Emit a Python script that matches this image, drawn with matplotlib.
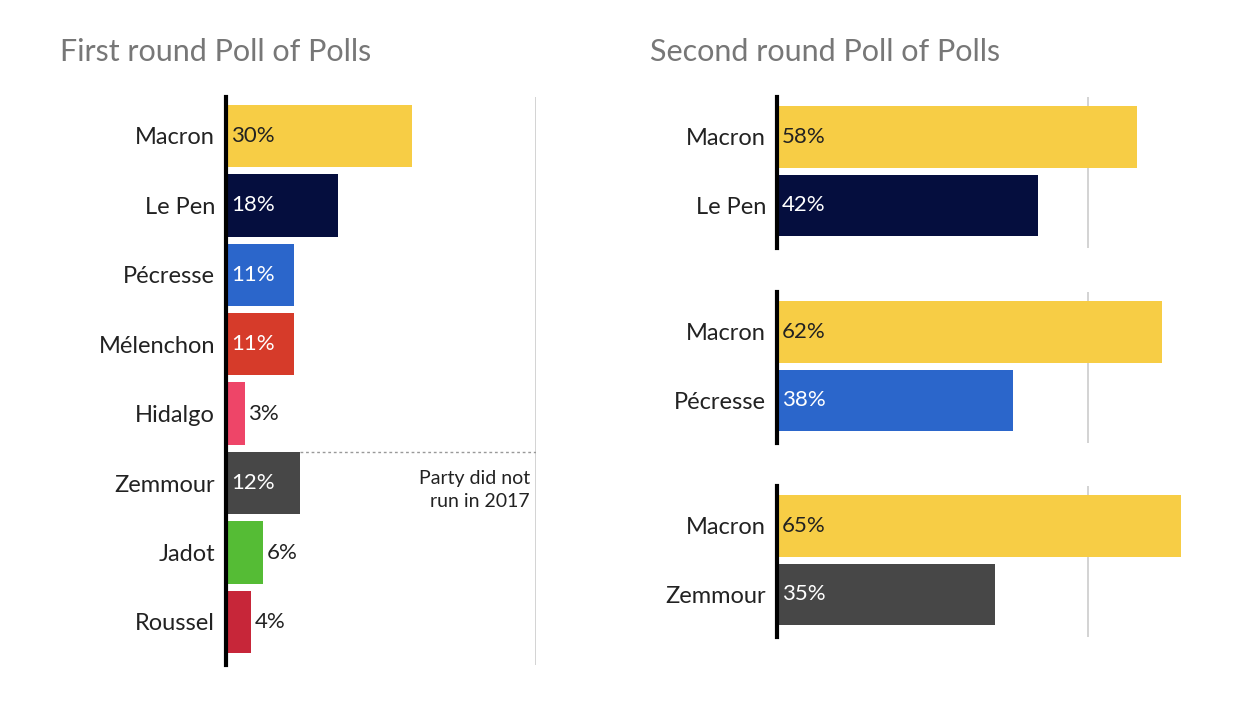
import matplotlib.pyplot as plt

plt.rcParams["font.family"] = ["Lato", "DejaVu Sans"]

W, H = 1236, 709

first_names = ["Macron", "Le Pen", "Pécresse", "Mélenchon", "Hidalgo", "Zemmour", "Jadot", "Roussel"]
first_values = [30, 18, 11, 11, 3, 12, 6, 4]
first_colors = ["#F7CD45", "#050E3E", "#2B66CB", "#D63B2A", "#EE4568", "#474747", "#55BC35", "#C72639"]
first_text = ["#222222", "white", "white", "white", "#222222", "white", "#222222", "#222222"]

second_pairs = [("Le Pen", 58, 42, "#050E3E"), ("Pécresse", 62, 38, "#2B66CB"), ("Zemmour", 65, 35, "#474747")]
YELLOW = "#F7CD45"


def px_axes(fig, left, top, right, bottom):
    return fig.add_axes([left / W, 1 - bottom / H, (right - left) / W, (bottom - top) / H])


def style(ax, xmax):
    ax.set_xlim(0, xmax)
    for s in ["top", "right", "bottom"]:
        ax.spines[s].set_visible(False)
    ax.spines["left"].set_linewidth(3)
    ax.spines["left"].set_color("black")
    ax.set_xticks([])
    ax.tick_params(axis="y", length=0, pad=8, labelsize=17, labelcolor="#222222")
    ax.axvline(50, color="#cccccc", lw=1.2, zorder=0)


fig = plt.figure(figsize=(W / 100, H / 100), dpi=100)

# first round
ax = px_axes(fig, 226, 97, 536, 665)
style(ax, 50)
n = len(first_names)
ax.set_ylim(n - 0.5 + 0.12, -0.5 - 0.06)
ax.barh(range(n), first_values, color=first_colors, height=0.9)
ax.set_yticks(range(n))
ax.set_yticklabels(first_names)
for i, v in enumerate(first_values):
    if v >= 10:
        ax.text(0.8, i, f"{v}%", va="center", ha="left", fontsize=16, color=first_text[i])
    else:
        ax.text(v + 0.6, i, f"{v}%", va="center", ha="left", fontsize=16, color="#222222")
ax.plot([12, 50], [4.55, 4.55], ls=(0, (2, 2)), color="#999999", lw=1)
ax.text(49, 5.1, "Party did not\nrun in 2017", ha="right", va="center", fontsize=14,
        color="#222222", linespacing=1.4)
fig.text(60 / W, 1 - 52 / H, "First round Poll of Polls", fontsize=22, color="#777777", va="center")

# second round
fig.text(650 / W, 1 - 52 / H, "Second round Poll of Polls", fontsize=22, color="#777777", va="center")
tops = [97, 292, 486]
for top, (name, mac, other, col) in zip(tops, second_pairs):
    a = px_axes(fig, 777, top, 1181, top + 151)
    style(a, 65)
    a.set_ylim(1.62, -0.58)
    a.barh([0, 1], [mac, other], color=[YELLOW, col], height=0.9)
    a.set_yticks([0, 1])
    a.set_yticklabels(["Macron", name])
    a.text(0.8, 0, f"{mac}%", va="center", ha="left", fontsize=16, color="#222222")
    a.text(0.8, 1, f"{other}%", va="center", ha="left", fontsize=16, color="white")

fig.savefig("out.png", dpi=100)
